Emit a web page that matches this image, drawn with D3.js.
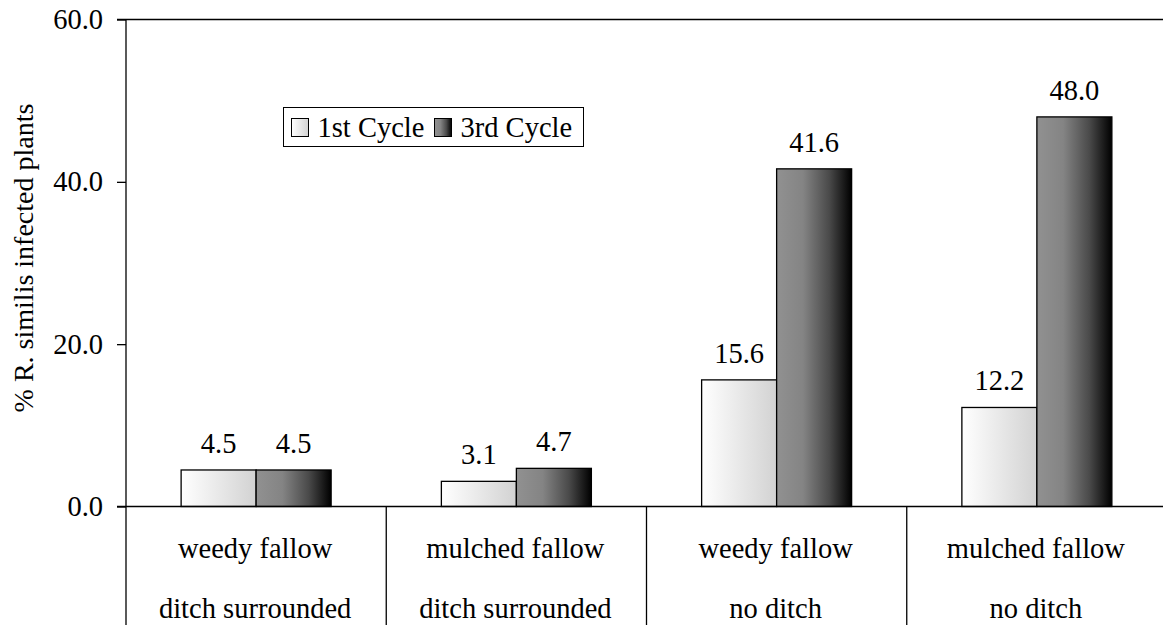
<!DOCTYPE html>
<html>
<head>
<meta charset="utf-8">
<script src="https://cdn.jsdelivr.net/npm/d3@7"></script>
<style>
  html, body { margin: 0; padding: 0; background: #fff; }
  svg { display: block; }
</style>
</head>
<body>
<svg id="chart" width="1163" height="625"></svg>
<script>
// Treatment categories (two-line labels)
const categories = ["wd", "md", "wn", "mn"];
const categoryLine1 = ["weedy fallow", "mulched fallow", "weedy fallow", "mulched fallow"];
const categoryLine2 = ["ditch surrounded", "ditch surrounded", "no ditch", "no ditch"];

// Series
const seriesNames = ["1st Cycle", "3rd Cycle"];
const firstCycle = [4.5, 3.1, 15.6, 12.2];
const thirdCycle = [4.5, 4.7, 41.6, 48.0];

// Y axis ticks
const yTicks = [0, 20, 40, 60];

const FONT = "Liberation Serif";
const FS = 28.5;

const svg = d3.select("#chart");
const W = 1163, H = 625;
const plot = { left: 126, right: 1167, top: 19.5, bottom: 506.5 };

const x0 = d3.scaleBand().domain(categories).range([plot.left, plot.right]).padding(0);
const x1 = d3.scaleBand().domain(seriesNames).range([0, 150]).padding(0);
const y = d3.scaleLinear().domain([0, 60]).range([plot.bottom, plot.top]);

// Gradients for the bar fills
const defs = svg.append("defs");
const g1 = defs.append("linearGradient").attr("id", "grad1").attr("x1", "0").attr("x2", "1").attr("y1", "0").attr("y2", "0");
g1.append("stop").attr("offset", "0").attr("stop-color", "#ffffff");
g1.append("stop").attr("offset", "1").attr("stop-color", "#d2d2d2");
const g3 = defs.append("linearGradient").attr("id", "grad3").attr("x1", "0").attr("x2", "1").attr("y1", "0").attr("y2", "0");
g3.append("stop").attr("offset", "0").attr("stop-color", "#919191");
g3.append("stop").attr("offset", "0.35").attr("stop-color", "#848484");
g3.append("stop").attr("offset", "0.7").attr("stop-color", "#4a4a4a");
g3.append("stop").attr("offset", "1").attr("stop-color", "#000000");
const fills = ["url(#grad1)", "url(#grad3)"];

// Top border line
svg.append("line")
  .attr("x1", plot.left - 9).attr("x2", W)
  .attr("y1", y(60)).attr("y2", y(60))
  .attr("stroke", "#000").attr("stroke-width", 1.3);

// Bars
const rows = categories.map((c, i) => ({ c, vals: [firstCycle[i], thirdCycle[i]] }));
const groups = svg.selectAll("g.grp").data(rows).join("g")
  .attr("class", "grp")
  .attr("transform", d => `translate(${x0(d.c) + (x0.bandwidth() - 150) / 2},0)`);

groups.selectAll("rect").data(d => d.vals.map((v, k) => ({ v, k, s: seriesNames[k] })))
  .join("rect")
  .attr("x", d => x1(d.s))
  .attr("y", d => y(d.v))
  .attr("width", x1.bandwidth())
  .attr("height", d => y(0) - y(d.v))
  .attr("fill", d => fills[d.k])
  .attr("stroke", "#000").attr("stroke-width", 1.3);

groups.selectAll("text.val").data(d => d.vals.map((v, k) => ({ v, k, s: seriesNames[k] })))
  .join("text")
  .attr("class", "val")
  .attr("x", d => x1(d.s) + x1.bandwidth() / 2)
  .attr("y", d => y(d.v) - 17)
  .attr("text-anchor", "middle")
  .attr("font-size", FS)
  .text(d => d.v.toFixed(1));

// Y axis
const yAxis = d3.axisLeft(y).tickValues(yTicks).tickSize(9).tickPadding(14).tickFormat(d3.format(".1f"));
const ya = svg.append("g").attr("transform", `translate(${plot.left},0)`).call(yAxis);
ya.select(".domain").remove();
ya.selectAll("line").attr("stroke", "#000").attr("stroke-width", 1.3);
ya.selectAll("text").attr("font-size", FS).attr("fill", "#000");

// Y axis line extended through the category table
svg.append("line")
  .attr("x1", plot.left).attr("x2", plot.left)
  .attr("y1", y(60)).attr("y2", H)
  .attr("stroke", "#000").attr("stroke-width", 1.3);

// Zero line
svg.append("line")
  .attr("x1", plot.left - 9).attr("x2", W)
  .attr("y1", y(0)).attr("y2", y(0))
  .attr("stroke", "#000").attr("stroke-width", 1.3);

// Category separators
svg.selectAll("line.sep").data(categories.slice(1)).join("line")
  .attr("class", "sep")
  .attr("x1", d => x0(d)).attr("x2", d => x0(d))
  .attr("y1", y(0)).attr("y2", H)
  .attr("stroke", "#000").attr("stroke-width", 1.3);

// Category labels
svg.selectAll("text.cat1").data(categories).join("text")
  .attr("class", "cat1")
  .attr("x", d => x0(d) + x0.bandwidth() / 2 - 1)
  .attr("y", 558)
  .attr("text-anchor", "middle").attr("font-size", FS)
  .text((d, i) => categoryLine1[i]);
svg.selectAll("text.cat2").data(categories).join("text")
  .attr("class", "cat2")
  .attr("x", d => x0(d) + x0.bandwidth() / 2 - 1)
  .attr("y", 618)
  .attr("text-anchor", "middle").attr("font-size", FS)
  .text((d, i) => categoryLine2[i]);

// Y axis title
svg.append("text")
  .attr("transform", "translate(33,258) rotate(-90)")
  .attr("text-anchor", "middle").attr("font-size", 28)
  .text("% R. similis infected plants");

// Legend
const lg = svg.append("g");
lg.append("rect").attr("x", 283.5).attr("y", 107.5).attr("width", 300).attr("height", 39)
  .attr("fill", "#fff").attr("stroke", "#000").attr("stroke-width", 1);
const legendX = [291.5, 434.5];
seriesNames.forEach((s, k) => {
  lg.append("rect").attr("x", legendX[k]).attr("y", 118.5).attr("width", 17).attr("height", 18)
    .attr("fill", fills[k]).attr("stroke", "#000").attr("stroke-width", 1);
  lg.append("text").attr("x", legendX[k] + 26).attr("y", 137).attr("font-size", FS).text(s);
});

// Serif face for all chart text
svg.selectAll("text").style("font-family", FONT).style("fill", "#000");
</script>
</body>
</html>
